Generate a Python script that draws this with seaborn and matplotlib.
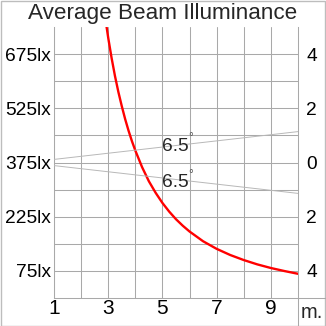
import matplotlib
matplotlib.use("Agg")
import matplotlib.pyplot as plt
from matplotlib.lines import Line2D
from matplotlib.patches import Rectangle
import seaborn as sns
import pandas as pd

# ---- data ----
distance_m = [2.94, 3.0, 3.125, 3.25, 3.375, 3.5, 3.625, 3.75, 3.875, 4.0, 4.25,
              4.5, 4.75, 5.0, 5.25, 5.5, 5.75, 6.0, 6.5, 7.0, 7.5, 8.0, 8.5,
              9.0, 9.5, 10.0]
illuminance_lx = [750, 720, 664, 614, 570, 531, 495, 463, 434, 408, 362,
                  323, 291, 263, 239, 218, 200, 184, 157, 136, 119, 105, 93,
                  83, 74.6, 67]

beam_d = [0, 10]
beam_upper = [0, 1.14]
beam_lower = [0, -1.14]
beam_angle_label = "6.5"

x_ticks = [1, 3, 5, 7, 9]
x_minor = [2, 4, 6, 8]
left_ticks = [75, 225, 375, 525, 675]
left_minor = [150, 300, 450, 600]
left_labels = ["75lx", "225lx", "375lx", "525lx", "675lx"]
right_ticks = [4, 2, 0, -2, -4]
right_labels = ["4", "2", "0", "2", "4"]
title = "Average Beam Illuminance"
unit = "m."

sns.set_theme(style="white")
plt.rcParams["font.family"] = ["Liberation Sans", "DejaVu Sans"]

W = 326
fig = plt.figure(figsize=(3.26, 3.26), dpi=100)
L, R, T, B = 54, 298, 27, 298
ax = fig.add_axes([L / W, (W - B) / W, (R - L) / W, (B - T) / W])

grid_c = "#a9a9a9"
df = pd.DataFrame({"d": distance_m, "E": illuminance_lx})
sns.lineplot(data=df, x="d", y="E", ax=ax, color="#ff0000", lw=1.7, zorder=5)

ax.set_xlim(1, 10)
ax.set_ylim(0, 750)
ax.set_xticks(x_ticks)
ax.set_xticks(x_minor, minor=True)
ax.set_yticks(left_ticks)
ax.set_yticklabels(left_labels)
ax.set_yticks(left_minor, minor=True)
ax.grid(which="both", color=grid_c, lw=0.75)
ax.tick_params(which="both", length=0)
ax.tick_params(axis="x", labelsize=15, pad=1, colors="black")
ax.tick_params(axis="y", labelsize=13.8, pad=2, colors="black")
ax.set_xlabel("")
ax.set_ylabel("")
for s in ["left", "right", "bottom"]:
    ax.spines[s].set_color(grid_c)
    ax.spines[s].set_linewidth(0.75)
ax.spines["top"].set_visible(False)

ax2 = ax.twinx()
ax2.set_ylim(-5, 5)
sns.lineplot(x=beam_d, y=beam_upper, ax=ax2, color="#b8b8b8", lw=0.7)
sns.lineplot(x=beam_d, y=beam_lower, ax=ax2, color="#b8b8b8", lw=0.7)
ax2.set_xlim(1, 10)
ax2.set_yticks(right_ticks)
ax2.set_yticklabels(right_labels)
ax2.tick_params(length=0, labelsize=13.8, pad=6, colors="black")
ax2.grid(False)
for s in ax2.spines.values():
    s.set_visible(False)

ax2.text(5.0, 0.43, beam_angle_label, fontsize=13.8, ha="left", va="baseline")
ax2.text(5.0, -0.90, beam_angle_label, fontsize=13.8, ha="left", va="baseline")
ax2.text(6.05, 0.78, "°", fontsize=8.5, ha="center", va="baseline", color="#555555")
ax2.text(6.05, -0.59, "°", fontsize=8.5, ha="center", va="baseline", color="#555555")

fig.text(0.5, 1 - 19 / W, title, fontsize=16.2, ha="center", va="baseline")
fig.text(311.7 / W, 1 - 318 / W, unit, fontsize=14.5, ha="center", va="baseline")

# frame extensions and outer border
fig.add_artist(Line2D([R / W, 1], [(W - B) / W, (W - B) / W], color=grid_c, lw=0.75,
                      transform=fig.transFigure))
fig.add_artist(Line2D([R / W, R / W], [0, (W - B) / W], color=grid_c, lw=0.75,
                      transform=fig.transFigure))
fig.add_artist(Rectangle((0.5 / W, 0.5 / W), 1 - 1.5 / W, 1 - 1.5 / W, fill=False,
                         edgecolor="#bdbdbd", lw=1, transform=fig.transFigure))

fig.savefig("out.png", dpi=100)
